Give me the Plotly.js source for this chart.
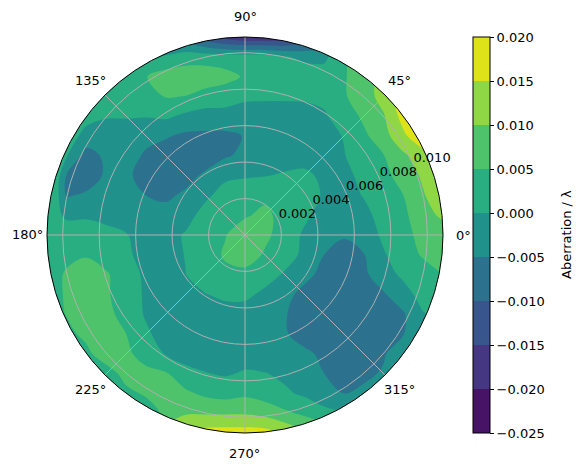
<!DOCTYPE html>
<html>
<head>
<meta charset="utf-8">
<script src="https://cdn.plot.ly/plotly-3.0.1.min.js"></script>
<style>html,body{margin:0;padding:0;background:#fff;}#chart{width:584px;height:470px;}</style>
</head>
<body>
<div id="chart"></div>
<script>
// aperture radius (radial axis max)
const rMax = 0.01086;
// grid coordinates (same units as the radial axis)
const gridX = [-0.01086,-0.009774,-0.008688,-0.007602,-0.006516,-0.00543,-0.004344,-0.003258,-0.002172,-0.001086,0,0.001086,0.002172,0.003258,0.004344,0.00543,0.006516,0.007602,0.008688,0.009774,0.01086];
const gridY = [0.01086,0.009774,0.008688,0.007602,0.006516,0.00543,0.004344,0.003258,0.002172,0.001086,0,-0.001086,-0.002172,-0.003258,-0.004344,-0.00543,-0.006516,-0.007602,-0.008688,-0.009774,-0.01086];
// aberration values (rows top to bottom)
const aberration = [
[0.002,0.002,0.002,0.002,0.0,-0.002,-0.006,-0.008,-0.013,-0.017,-0.019,-0.019,-0.018,-0.015,-0.012,-0.008,0.0,0.012,0.015,0.018,0.018],
[0.002,0.002,0.002,0.002,0.002,0.0,0.0005,0.0025,0.0025,0.0025,0.0025,0.0025,0.0003,-0.0008,-0.001,0.003,0.01,0.013,0.016,0.018,0.018],
[0.002,0.002,0.002,0.002,0.002,0.0048,0.0075,0.008,0.008,0.0065,0.0045,0.003,0.0025,0.002,0.002,0.0045,0.008,0.012,0.016,0.018,0.018],
[0.002,0.002,0.002,0.002,0.0025,0.003,0.0053,0.0049,0.003,0.0025,0.0008,0.0008,0.0008,0.0008,0.001,0.0045,0.0075,0.012,0.018,0.019,0.019],
[0.002,0.002,0.002,0.0003,0.0003,0.0002,0.0008,-0.001,-0.002,-0.002,-0.002,-0.0025,-0.0025,-0.002,-0.0005,0.002,0.006,0.0095,0.017,0.02,0.02],
[0.003,0.003,-0.002,-0.002,-0.002,-0.003,-0.0045,-0.006,-0.006,-0.006,-0.0048,-0.003,-0.003,-0.003,-0.002,0.0003,0.004,0.008,0.014,0.019,0.019],
[0.006,0.0003,-0.007,-0.004,-0.002,-0.006,-0.0075,-0.008,-0.008,-0.0055,-0.004,-0.002,-0.002,-0.0015,-0.002,-0.0003,0.0035,0.0048,0.009,0.013,0.017],
[0.01,-0.0055,-0.0085,-0.004,-0.004,-0.007,-0.008,-0.007,-0.004,-0.001,-0.0005,-0.0002,0.0005,0.0008,-0.0008,-0.0015,0.0015,0.004,0.0065,0.011,0.015],
[0.008,-0.0055,-0.004,-0.003,-0.003,-0.005,-0.006,-0.004,-0.001,0.002,0.003,0.004,0.003,0.002,-0.0005,-0.002,0.0003,0.003,0.005,0.0095,0.014],
[0.003,-0.001,-0.0008,-0.002,-0.003,-0.003,-0.003,-0.002,0.002,0.004,0.0045,0.006,0.0035,0.001,-0.002,-0.003,-0.0015,0.002,0.004,0.008,0.011],
[0.002,0.003,0.003,0.002,0.0003,-0.002,-0.002,0.0005,0.003,0.0048,0.0075,0.006,0.003,-0.0008,-0.003,-0.0045,-0.003,0.001,0.004,0.006,0.007],
[0.004,0.004,0.0045,0.003,0.001,-0.002,-0.002,0.0002,0.003,0.0055,0.0075,0.0045,0.002,-0.001,-0.005,-0.007,-0.0052,-0.0005,0.003,0.0055,0.007],
[0.003,0.0055,0.008,0.0055,0.0025,-0.001,-0.002,-0.0001,0.003,0.004,0.0035,0.002,-0.0005,-0.003,-0.007,-0.009,-0.006,-0.002,0.001,0.003,0.005],
[0.003,0.0055,0.008,0.0055,0.003,-0.0008,-0.002,-0.002,-0.0002,0.001,0.001,-0.001,-0.003,-0.007,-0.009,-0.009,-0.008,-0.0055,-0.002,0.002,0.003],
[0.003,0.0052,0.008,0.0065,0.003,-0.0005,-0.002,-0.003,-0.003,-0.002,-0.002,-0.003,-0.0045,-0.008,-0.009,-0.009,-0.009,-0.008,-0.0055,-0.0003,0.002],
[0.004,0.004,0.006,0.008,0.005,0.0008,-0.002,-0.003,-0.003,-0.003,-0.003,-0.003,-0.0045,-0.007,-0.009,-0.009,-0.009,-0.008,-0.0052,0.0005,0.001],
[0.003,0.003,0.004,0.0075,0.0065,0.002,-0.0003,-0.002,-0.002,-0.002,-0.002,-0.003,-0.003,-0.004,-0.006,-0.008,-0.008,-0.0055,-0.002,0.0,0.0],
[0.002,0.002,0.002,0.003,0.0065,0.007,0.0055,0.0015,0.0002,-0.0005,0.0005,0.0002,-0.001,-0.002,-0.005,-0.007,-0.006,-0.0045,-0.002,-0.001,-0.001],
[0.003,0.003,0.003,0.003,0.004,0.0055,0.008,0.006,0.004,0.003,0.004,0.0025,0.0008,-0.0008,-0.004,-0.005,-0.004,-0.002,-0.002,-0.002,-0.002],
[0.003,0.003,0.003,0.003,0.003,0.003,0.006,0.0095,0.0095,0.0095,0.0095,0.0085,0.006,0.004,0.002,0.0,-0.002,-0.002,-0.002,-0.002,-0.002],
[0.005,0.005,0.005,0.005,0.008,0.01,0.013,0.016,0.017,0.0172,0.0172,0.017,0.0145,0.011,0.008,0.003,0.0,-0.002,-0.002,-0.002,-0.002]
];
// contour levels and colour bar ticks
const levelStart = -0.025, levelEnd = 0.02, levelStep = 0.005;
const cbTickVals = [-0.025,-0.02,-0.015,-0.01,-0.005,0,0.005,0.01,0.015,0.02];
const cbTickText = ['\u22120.025','\u22120.020','\u22120.015','\u22120.010','\u22120.005','0.000','0.005','0.010','0.015','0.020'];
const cbTitle = 'Aberration / \u03bb';
const bandColors = ['#471365','#453781','#39568c','#2c718e','#21918c','#28ae80','#4ec36b','#8fd744','#dde318'];
// polar ticks
const rTicks = [0.002,0.004,0.006,0.008,0.010];
const rTickText = ['0.002','0.004','0.006','0.008','0.010'];
const rLabelAngle = 22.5;
const angTicks = [0,45,90,135,180,225,270,315];
const angTickText = ['0\u00b0','45\u00b0','90\u00b0','135\u00b0','180\u00b0','225\u00b0','270\u00b0','315\u00b0'];

// stepwise colourscale
const nb = bandColors.length;
const colorscale = [];
bandColors.forEach((c,i)=>{ colorscale.push([i/nb,c]); colorscale.push([(i+1)/nb,c]); });

// white mask outside the circle (square with a circular hole)
const mx = [], my = [];
const big = rMax*1.3;
[[big,0],[big,big],[-big,big],[-big,-big],[big,-big],[big,0]].forEach(p=>{mx.push(p[0]);my.push(p[1]);});
for (let k=0;k<=360;k++){ const t=-k*Math.PI/180; mx.push(rMax*Math.cos(t)); my.push(rMax*Math.sin(t)); }
mx.push(big); my.push(0);

const font = {family:'DejaVu Sans, sans-serif', size:13, color:'#000'};

const traces = [
  {type:'contour', x:gridX, y:gridY, z:aberration,
   zmin:levelStart, zmax:levelEnd+0.00001, autocontour:false,
   contours:{start:levelStart,end:levelEnd,size:levelStep,coloring:'fill',showlines:false},
   line:{width:0,smoothing:1}, colorscale:colorscale, hoverinfo:'skip',
   colorbar:{x:(473-47)/396, xanchor:'left', xpad:0, y:0.5, yanchor:'middle', len:1, lenmode:'fraction', ypad:0,
     thickness:17, thicknessmode:'pixels', outlinewidth:1, outlinecolor:'#000',
     ticks:'outside', ticklen:4, tickwidth:1, tickcolor:'#000',
     tickvals:cbTickVals, ticktext:cbTickText, tickfont:font}},
  {type:'scatter', x:mx, y:my, mode:'lines', fill:'toself', fillcolor:'#ffffff',
   line:{width:0,color:'rgba(0,0,0,0)'}, hoverinfo:'skip', showlegend:false},
  {type:'scatterpolar', r:rTicks, theta:rTicks.map(()=>rLabelAngle), mode:'text', text:rTickText,
   textposition:'top right', textfont:font, cliponaxis:false, hoverinfo:'skip', showlegend:false}
];

const annotations = angTicks.map((a,i)=>({
  xref:'paper', yref:'paper', showarrow:false, font:font, text:angTickText[i],
  x:0.5+(218/396)*Math.cos(a*Math.PI/180), y:0.5+(218/396)*Math.sin(a*Math.PI/180),
  xanchor:'center', yanchor:'middle'
}));
annotations.push({xref:'paper', yref:'paper', showarrow:false, font:font, text:cbTitle,
  x:(566-47)/396, y:0.5, xanchor:'center', yanchor:'middle', textangle:-90});

const layout = {
  width:584, height:470, margin:{l:47,r:141,t:37,b:37}, showlegend:false,
  paper_bgcolor:'#fff', plot_bgcolor:'#fff', font:font,
  xaxis:{range:[-rMax,rMax], visible:false, domain:[0,1], fixedrange:true},
  yaxis:{range:[-rMax,rMax], visible:false, domain:[0,1], fixedrange:true},
  polar:{domain:{x:[0,1],y:[0,1]}, bgcolor:'rgba(0,0,0,0)',
    radialaxis:{range:[0,rMax], tickvals:rTicks, showticklabels:false, ticks:'', showline:false,
      gridcolor:'#b0b0b0', gridwidth:1, angle:rLabelAngle},
    angularaxis:{tickvals:angTicks, showticklabels:false, ticks:'', showline:true, linecolor:'#000', linewidth:1,
      gridcolor:'#b0b0b0', gridwidth:1, direction:'counterclockwise', rotation:0}},
  annotations:annotations
};

Plotly.newPlot('chart', traces, layout, {staticPlot:true});
</script>
</body>
</html>
